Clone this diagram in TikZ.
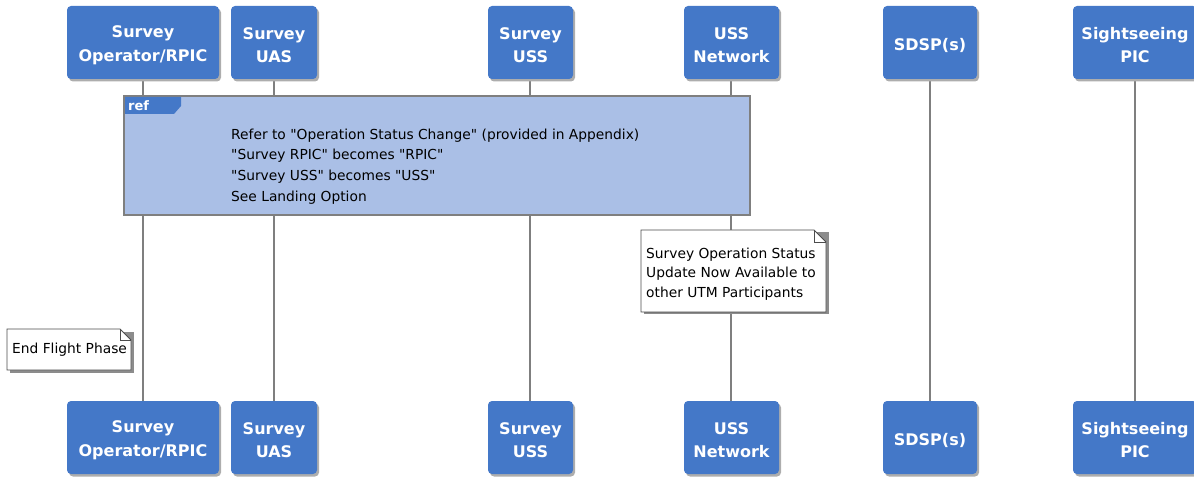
\documentclass[tikz,border=0pt]{standalone}
\usepackage{fontspec}
\setmainfont{DejaVu Sans}[Ligatures=TeXOff]
\usetikzlibrary{calc}
\definecolor{actorblue}{HTML}{4478C8}
\definecolor{refblue}{HTML}{AABFE6}
\definecolor{lifegray}{HTML}{7F7F7F}
\begin{document}
\begin{tikzpicture}[x=1pt,y=-1pt,
  headbox/.style={fill=actorblue,rounded corners=4pt},
  actor/.style={text=white,font=\bfseries\fontsize{16}{23.5}\selectfont,align=center,inner sep=0pt},
  shade/.style={fill=black!32,rounded corners=4pt},
  lifeline/.style={draw=lifegray,line width=2pt},
  notetext/.style={font=\fontsize{13.8}{20.7}\selectfont,align=left,anchor=north west,inner sep=0pt}
]
\useasboundingbox (0,0) rectangle (1194,478);

% participants: name, left edge, right edge, lifeline x, label
\foreach \nm/\l/\r/\cx/\txt in {op/67/219/143/{Survey\\Operator/RPIC},uas/231/317/274/{Survey\\UAS},
  uss/488/573/530/{Survey\\USS},net/684/779/731/{USS\\Network},sdsp/883/977/930/{SDSP(s)},
  sight/1073/1197/1135/{Sightseeing\\PIC}}{
  % lifeline
  \coordinate (\nm-a) at (\cx,79);
  \coordinate (\nm-b) at (\cx,401);
  \draw[lifeline] (\nm-a) -- (\nm-b);
  % heads at top and bottom, each with a soft shadow
  \fill[shade] (\l+2,8.5) rectangle (\r+2,81.5);
  \fill[headbox] (\l,6) rectangle (\r,79);
  \node[actor] (\nm-top) at ({(\l+\r)/2},45) {\txt};
  \fill[shade] (\l+2,403.5) rectangle (\r+2,476.5);
  \fill[headbox] (\l,401) rectangle (\r,474);
  \node[actor] (\nm-bot) at ({(\l+\r)/2},440) {\txt};
}

% reference frame
\draw[draw=lifegray,line width=1.8pt,fill=refblue] (124,96) rectangle (750,215);
\fill[actorblue] (125,97) -- (181,97) -- (181,106) -- (174,114) -- (125,114) -- cycle;
\node[text=white,font=\bfseries\fontsize{13}{15}\selectfont,anchor=west,inner sep=0pt] (reflbl) at (128,105.5) {ref};
\node[notetext] (reftxt) at (231,128.5) {Refer to "Operation Status Change" (provided in Appendix)\\
"Survey RPIC" becomes "RPIC"\\
"Survey USS" becomes "USS"\\
See Landing Option};

% status note
\fill[black!45] (643.5,232.5) rectangle (828.5,314.5);
\draw[draw=black!70,fill=white,line width=0.8pt] (641,230) -- (814,230) -- (826,242) -- (826,312) -- (641,312) -- cycle;
\draw[draw=black!70,line width=0.8pt] (814,230) -- (814,242) -- (826,242);
\node[notetext,font=\fontsize{13.8}{19.6}\selectfont] (statusnote) at (646,247.5) {Survey Operation Status\\Update Now Available to\\other UTM Participants};

% end flight note
\fill[black!45] (9.5,331.5) rectangle (133.5,372.5);
\draw[draw=black!70,fill=white,line width=0.8pt] (7,329) -- (120,329) -- (131,340) -- (131,370) -- (7,370) -- cycle;
\draw[draw=black!70,line width=0.8pt] (120,329) -- (120,340) -- (131,340);
\node[notetext] (endnote) at (12,343) {End Flight Phase};
\end{tikzpicture}
\end{document}
